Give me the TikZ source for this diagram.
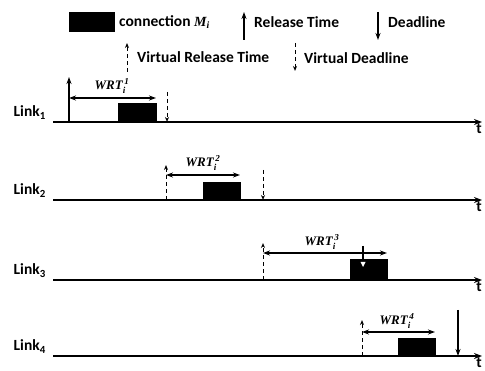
\documentclass[tikz,border=0pt]{standalone}
\usepackage{amsmath}
\usepackage{fontspec}
\setmainfont{Carlito}
\newfontfamily\wrtfont{Liberation Serif}
\usetikzlibrary{arrows.meta}
\newcommand{\wrtlab}[1]{WRT$_{\text{\bfseries\itshape i}}^{\,\text{\bfseries\itshape #1}}$}
\tikzset{
  lbl/.style={font=\bfseries\fontsize{15.5}{17}\selectfont, inner sep=0pt},
  wrt/.style={font=\wrtfont\bfseries\itshape\fontsize{13}{14}\selectfont, inner sep=0pt},
  axis/.style={line width=1.6pt, -{Stealth[length=8pt,width=6pt]}},
  rel/.style={line width=1.4pt, -{Stealth[length=7pt,width=5pt]}},
  vrel/.style={line width=1pt, dash pattern=on 4pt off 3pt, -{Stealth[open,length=5pt,width=4pt]}},
  span/.style={line width=1.3pt, {Stealth[length=7pt,width=5pt]}-{Stealth[length=7pt,width=5pt]}},
  conn/.style={fill=black, draw=black},
}
\begin{document}
\begin{tikzpicture}[x=1pt,y=-1pt]
\useasboundingbox (0,0) rectangle (485,371);
% legend
\fill[conn] (69,12) rectangle (114,31);
\node[lbl, anchor=west] (lc) at (119,22) {connection {\wrtfont\itshape\fontsize{14}{15}\selectfont M\textsubscript{i}}};
\coordinate (lr1) at (244,40); \coordinate (lr2) at (244,12);
\draw[rel] (lr1) -- (lr2);
\node[lbl, anchor=west] (lrt) at (254,22) {Release Time};
\coordinate (ld1) at (378,12); \coordinate (ld2) at (378,40);
\draw[rel] (ld1) -- (ld2);
\node[lbl, anchor=west] (ldt) at (388,22) {Deadline};
\coordinate (lv1) at (127,72); \coordinate (lv2) at (127,43);
\draw[vrel] (lv1) -- (lv2);
\node[lbl, anchor=west] (lvt) at (137,57) {Virtual Release Time};
\coordinate (lw1) at (295,43); \coordinate (lw2) at (295,71);
\draw[vrel] (lw1) -- (lw2);
\node[lbl, anchor=west] (lwt) at (304,58) {Virtual Deadline};

% axes
\foreach \i/\y in {1/122,2/200,3/280,4/356}{
  \coordinate (a\i s) at (53,\y);
  \coordinate (a\i e) at (482,\y);
  \draw[axis] (a\i s) -- (a\i e);
  \node[lbl, anchor=base east] (L\i) at (46,\y-5) {Link\textsubscript{\i}};
  \node[lbl, anchor=north] (t\i) at (479,\y+2) {t};
}

% Link 1
\fill[conn] (118,103) rectangle (156,122);
\coordinate (r1a) at (69,122); \coordinate (r1b) at (69,77);
\draw[rel] (r1a) -- (r1b);
\coordinate (w1a) at (69,98); \coordinate (w1b) at (156,98);
\draw[span] (w1a) -- (w1b);
\node[wrt] (W1) at (112,86) {\wrtlab{1}};
\coordinate (d1a) at (167,92); \coordinate (d1b) at (167,122);
\draw[vrel] (d1a) -- (d1b);

% Link 2
\fill[conn] (203,182) rectangle (240,200);
\coordinate (r2a) at (166,200); \coordinate (r2b) at (166,165);
\draw[vrel] (r2a) -- (r2b);
\coordinate (w2a) at (166,175); \coordinate (w2b) at (240,175);
\draw[span] (w2a) -- (w2b);
\node[wrt] (W2) at (203,163) {\wrtlab{2}};
\coordinate (d2a) at (263,170); \coordinate (d2b) at (263,200);
\draw[vrel] (d2a) -- (d2b);

% Link 3
\fill[conn] (350,259) rectangle (387,280);
\coordinate (r3a) at (263,280); \coordinate (r3b) at (263,243);
\draw[vrel] (r3a) -- (r3b);
\coordinate (w3a) at (263,253); \coordinate (w3b) at (387,253);
\draw[span] (w3a) -- (w3b);
\node[wrt] (W3) at (322,242) {\wrtlab{3}};
\coordinate (d3a) at (363,246); \coordinate (d3b) at (363,259);
\draw[line width=1.3pt] (d3a) -- (d3b);
\fill[white] (360.5,262) -- (365.5,262) -- (363,267) -- cycle;

% Link 4
\fill[conn] (398,338) rectangle (435,356);
\coordinate (r4a) at (362,356); \coordinate (r4b) at (362,320);
\draw[vrel] (r4a) -- (r4b);
\coordinate (w4a) at (362,332); \coordinate (w4b) at (435,332);
\draw[span] (w4a) -- (w4b);
\node[wrt] (W4) at (397,321) {\wrtlab{4}};
\coordinate (d4a) at (458,310); \coordinate (d4b) at (458,356);
\draw[rel] (d4a) -- (d4b);
\end{tikzpicture}
\end{document}
